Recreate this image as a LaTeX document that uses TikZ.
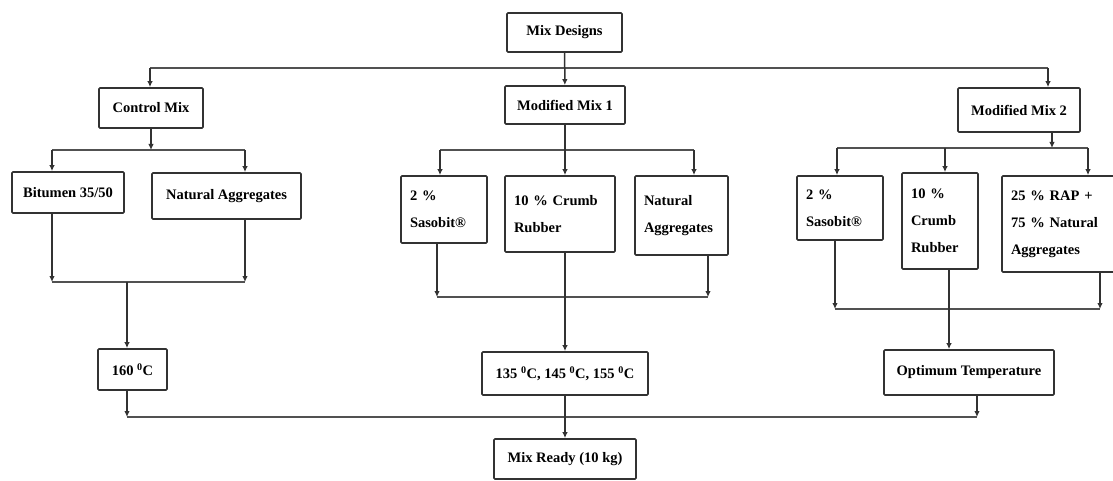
\documentclass[tikz,border=0pt]{standalone}
\usepackage{fontspec}
\setmainfont{Liberation Serif}
\usetikzlibrary{arrows.meta}
\definecolor{linegray}{RGB}{50, 50, 50}

\begin{document}
\begin{tikzpicture}[
    x=1pt, y=-1pt,
    box/.style     = {draw=linegray, line width=1.7pt, rounded corners=1pt,
                      align=center, inner sep=0pt,
                      font=\bfseries\fontsize{14.5}{27}\selectfont},
    listbox/.style = {box, align=left, inner xsep=9pt},
    arrow/.style   = {-{Latex[length=6pt, width=5.5pt]}, line width=1.5pt, color=linegray},
    bar/.style     = {line width=2.4pt, color=linegray!85},
  ]
  \useasboundingbox (0,0) rectangle (1113,481);

  % top level
  \node[box, minimum width=115pt, minimum height=39pt] (mix) at (564.5,32.5) {Mix Designs};
  \node[box, minimum width=104pt, minimum height=40pt] (ctrl) at (151,108) {Control Mix};
  \node[box, minimum width=120pt, minimum height=38pt] (mod1) at (565,105) {Modified Mix 1};
  \node[box, minimum width=122pt, minimum height=44pt] (mod2) at (1019,110) {Modified Mix 2};

  % ingredients
  \node[box, minimum width=112pt, minimum height=41pt] (bitumen) at (68,192.5) {Bitumen 35/50};
  \node[box, minimum width=149pt, minimum height=46pt] (natagg) at (226.5,196) {Natural Aggregates};
  \node[listbox, text width=68pt, minimum height=67pt] (sas1) at (444,209.5) {2 \%\\Sasobit®};
  \node[listbox, text width=92pt, minimum height=76pt] (crum1) at (560,214) {10 \% Crumb\\Rubber};
  \node[listbox, text width=75pt, minimum height=79pt] (nat1) at (681.5,215.5) {Natural\\Aggregates};
  \node[listbox, text width=68pt, minimum height=64pt] (sas2) at (840,208) {2 \%\\Sasobit®};
  \node[listbox, text width=58pt, minimum height=96pt] (crum2) at (940,221) {10 \%\\Crumb\\Rubber};
  \node[listbox, text width=98pt, minimum height=96pt] (rap) at (1060,224) {25 \% RAP +\\75 \% Natural\\Aggregates};

  % temperatures
  \node[box, minimum width=69pt, minimum height=41pt] (t160) at (132.5,369.5) {160 \textsuperscript{0}C};
  \node[box, minimum width=166pt, minimum height=43pt] (t135) at (565,373.5)
    {135 \textsuperscript{0}C, 145 \textsuperscript{0}C, 155 \textsuperscript{0}C};
  \node[box, minimum width=170pt, minimum height=45pt] (opt) at (969,372.5) {Optimum Temperature};
  \node[box, minimum width=142pt, minimum height=40pt] (ready) at (565,459) {Mix Ready (10 kg)};

  % fan-out from mix designs
  \coordinate (topL) at (150,68);
  \coordinate (topR) at (1048,68);
  \draw[bar] (topL) -- (topR);
  \draw[arrow] (mix) -- (mod1);
  \draw[arrow] (topL) -- (topL |- ctrl.north);
  \draw[arrow] (topR) -- (topR |- mod2.north);

  % control mix
  \coordinate (cA) at (52,150);
  \coordinate (cB) at (245,150);
  \coordinate (cC) at (52,282);
  \coordinate (cD) at (245,282);
  \coordinate (cE) at (127,282);
  \draw[arrow] (ctrl.south) -- (ctrl.south |- cA);
  \draw[bar] (cA) -- (cB);
  \draw[arrow] (cA) -- (cA |- bitumen.north);
  \draw[arrow] (cB) -- (cB |- natagg.north);
  \draw[arrow] (cC |- bitumen.south) -- (cC);
  \draw[arrow] (cD |- natagg.south) -- (cD);
  \draw[bar] (cC) -- (cD);
  \draw[arrow] (cE) -- (cE |- t160.north);

  % modified mix 1
  \coordinate (mA) at (440,150);
  \coordinate (mB) at (694,150);
  \coordinate (mC) at (437,297);
  \coordinate (mD) at (708,297);
  \draw[bar] (mA) -- (mB);
  \draw[arrow] (mod1.south) -- (mod1.south |- crum1.north);
  \draw[arrow] (mA) -- (mA |- sas1.north);
  \draw[arrow] (mB) -- (mB |- nat1.north);
  \draw[arrow] (mC |- sas1.south) -- (mC);
  \draw[arrow] (mD |- nat1.south) -- (mD);
  \draw[bar] (mC) -- (mD);
  \draw[arrow] (crum1.south -| t135) -- (t135);

  % modified mix 2
  \coordinate (nS) at (1052,148);
  \coordinate (nA) at (837,148);
  \coordinate (nM) at (945,148);
  \coordinate (nB) at (1088,148);
  \coordinate (nC) at (835,309);
  \coordinate (nD) at (1100,309);
  \coordinate (nE) at (949,309);
  \draw[arrow] (nS |- mod2.south) -- (nS);
  \draw[bar] (nA) -- (nB);
  \draw[arrow] (nA) -- (nA |- sas2.north);
  \draw[arrow] (nM) -- (nM |- crum2.north);
  \draw[arrow] (nB) -- (nB |- rap.north);
  \draw[arrow] (nC |- sas2.south) -- (nC);
  \draw[arrow] (nD |- rap.south) -- (nD);
  \draw[bar] (nC) -- (nD);
  \draw[arrow] (nE |- crum2.south) -- (nE |- opt.north);

  % collect to mix ready
  \coordinate (bL) at (127,417);
  \coordinate (bR) at (977,417);
  \draw[arrow] (bL |- t160.south) -- (bL);
  \draw[arrow] (bR |- opt.south) -- (bR);
  \draw[bar] (bL) -- (bR);
  \draw[arrow] (t135) -- (ready);
\end{tikzpicture}
\end{document}
